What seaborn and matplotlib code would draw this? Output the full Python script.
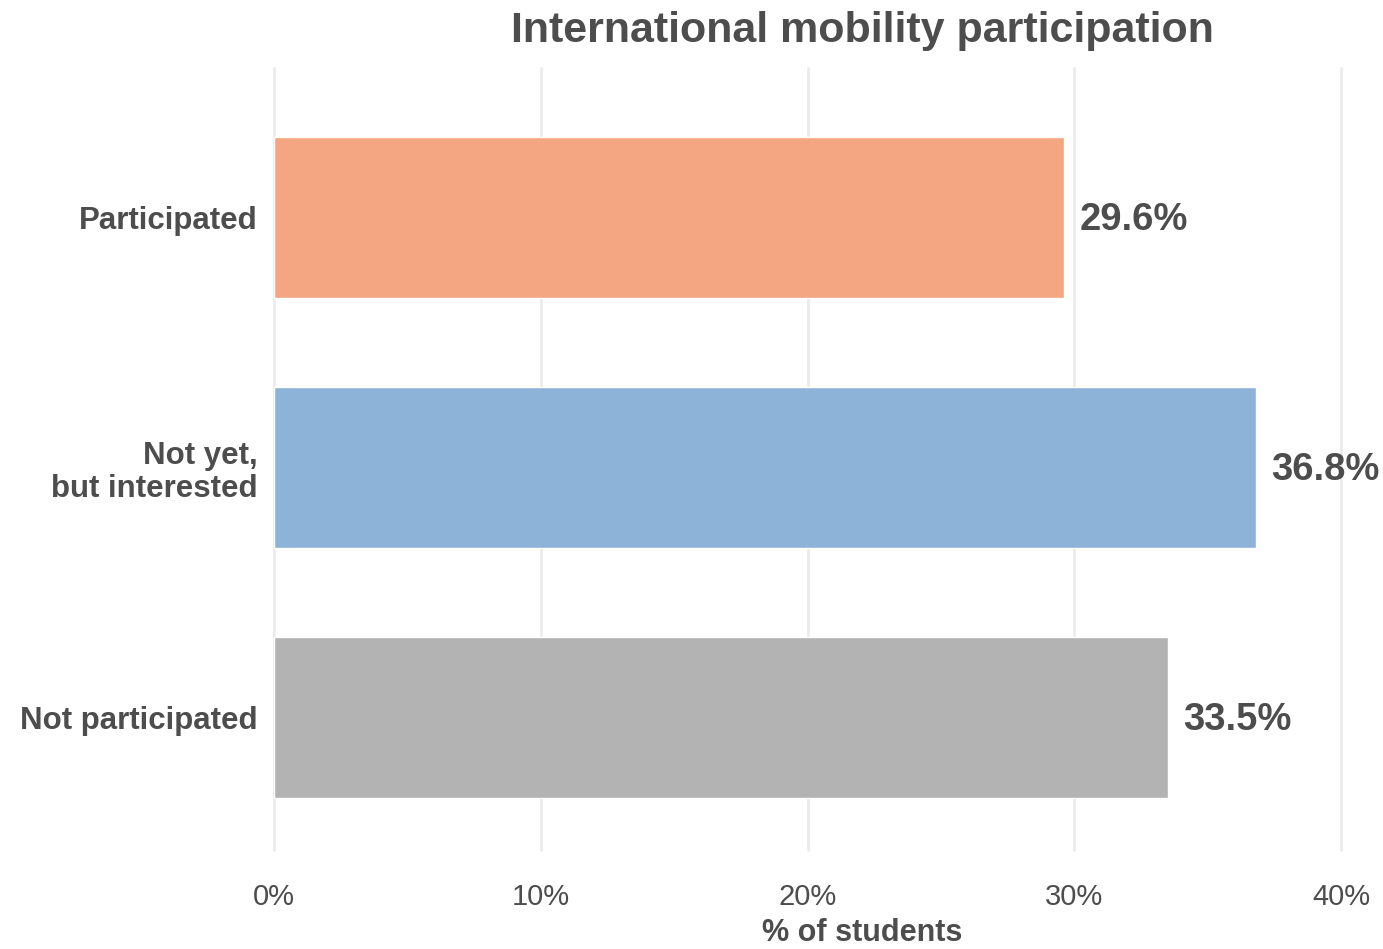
import matplotlib
matplotlib.use("Agg")
import matplotlib.pyplot as plt
import seaborn as sns
import pandas as pd

categories = ["Participated", "Not yet,\nbut interested", "Not participated"]
values = [29.6, 36.8, 33.5]
colors = ["#F4A582", "#8DB3D9", "#B3B3B3"]
xticks = [0, 10, 20, 30, 40]
xtick_labels = ["0%", "10%", "20%", "30%", "40%"]

sns.set_theme(style="white")
plt.rcParams["font.family"] = ["Liberation Sans", "DejaVu Sans"]
TXT = "#4D4D4D"

df = pd.DataFrame({"category": categories, "value": values})

fig = plt.figure(figsize=(13.83, 9.49), dpi=100)
W, H = 1383, 949
ax = fig.add_axes([274 / W, 99 / H, (1341 - 274) / W, (850 - 68) / H])

sns.barplot(data=df, y="category", x="value", hue="category", order=categories,
            hue_order=categories, palette=colors, orient="h", width=0.645,
            legend=False, ax=ax, saturation=1, zorder=2)

ax.set_xlim(0, 40)
ax.set_ylim(2.53, -0.598)
ax.set_xticks(xticks)
ax.set_xticklabels(xtick_labels)
for x in xticks:
    ax.axvline(x, color="#EBEBEB", lw=2, zorder=0, clip_on=False)

for s in ax.spines.values():
    s.set_visible(False)
ax.tick_params(axis="x", length=0, pad=24, labelsize=21, labelcolor=TXT)
ax.tick_params(axis="y", length=0, pad=12, labelsize=22.5, labelcolor=TXT)
for lab in ax.get_yticklabels():
    lab.set_fontweight("bold")
    lab.set_linespacing(1.12)
    lab.set_multialignment("right")
ax.set_xlabel("")
ax.set_ylabel("")

for i, v in enumerate(values):
    ax.annotate(f"{v:.1f}%", xy=(v, i), xytext=(11.5, -2), textcoords="offset points",
                ha="left", va="center", fontsize=27.5, fontweight="bold", color=TXT,
                annotation_clip=False)

fig.text(862 / W, 1 - 31 / H, "International mobility participation", ha="center",
         va="center", fontsize=31, fontweight="bold", color=TXT)
fig.text(862 / W, 1 - 933 / H, "% of students", ha="center", va="center",
         fontsize=22, fontweight="bold", color=TXT)

fig.savefig("out.png", dpi=100)
